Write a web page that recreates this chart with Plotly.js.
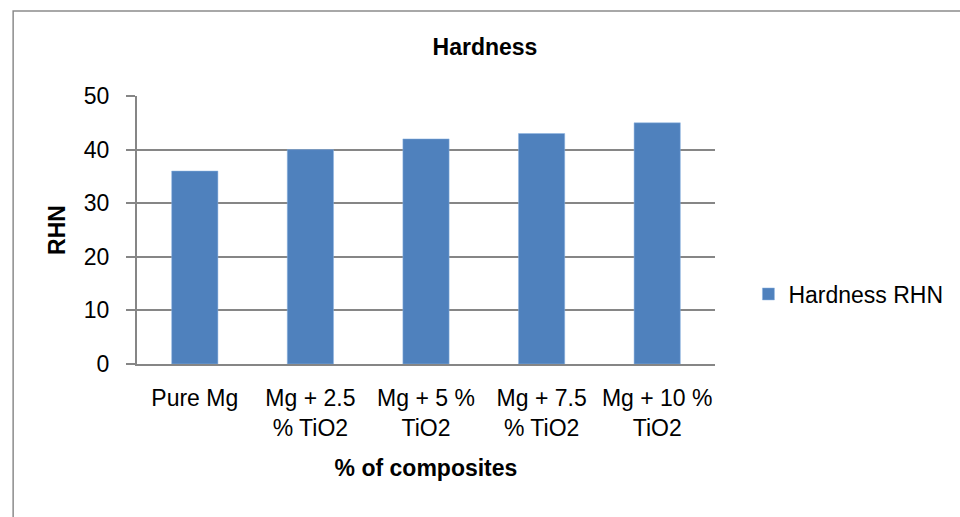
<!DOCTYPE html>
<html>
<head>
<meta charset="utf-8">
<script src="https://cdn.plot.ly/plotly-3.0.1.min.js"></script>
<style>html,body{margin:0;padding:0;background:#fff;}#chart{width:960px;height:517px;}</style>
</head>
<body>
<div id="chart"></div>
<script>
const categories = ["Pure Mg", "Mg + 2.5 % TiO2", "Mg + 5 % TiO2", "Mg + 7.5 % TiO2", "Mg + 10 % TiO2"];
const tickLabels = ["Pure Mg", "Mg + 2.5<br>% TiO2", "Mg + 5 %<br>TiO2", "Mg + 7.5<br>% TiO2", "Mg + 10 %<br>TiO2"];
const hardness = [36, 40, 42, 43, 45];
const yTicks = [0, 10, 20, 30, 40, 50];

const FONT = "'Liberation Sans', Arial, sans-serif";
const L = 137, R = 725, T = 96, B = 364, W = 960, H = 517;
const px = v => (v - L) / (R - L);
const py = v => (B - v) / (B - T);

const trace = {
  type: "bar",
  x: categories,
  y: hardness,
  name: "Hardness RHN",
  marker: { color: "#4f81bd", line: { color: "#8eb4e3", width: 0.5 } },
  width: 0.4
};

const layout = {
  width: W, height: H,
  margin: { l: L, r: W - R, t: T, b: H - B, pad: 0 },
  paper_bgcolor: "#fff", plot_bgcolor: "#fff",
  font: { family: FONT, size: 23, color: "#000" },
  title: { text: "<b>Hardness</b>", font: { family: FONT, size: 23, color: "#000" }, x: px(491), xanchor: "center", xref: "paper", y: 1 - 47 / H, yanchor: "middle" },
  showlegend: true,
  legend: { x: px(759), y: py(294), xanchor: "left", yanchor: "middle", font: { family: FONT, size: 23, color: "#000" }, itemwidth: 30, bgcolor: "rgba(0,0,0,0)" },
  bargap: 0.6,
  xaxis: {
    tickmode: "array", tickvals: categories, ticktext: tickLabels,
    showline: true, linecolor: "#868686", linewidth: 2,
    ticks: "", showgrid: false,
    ticklabelstandoff: 12,
    tickfont: { family: FONT, size: 23, color: "#000" },
    title: { text: "<b>% of composites</b>", font: { family: FONT, size: 23, color: "#000" }, standoff: 20 },
    automargin: false
  },
  yaxis: {
    range: [0, 50], tickmode: "array", tickvals: yTicks,
    showline: true, linecolor: "#868686", linewidth: 2,
    ticks: "outside", ticklen: 9, tickcolor: "#868686", tickwidth: 2,
    showgrid: true, gridcolor: "#868686", gridwidth: 2,
    zeroline: false,
    ticklabelstandoff: 12,
    tickfont: { family: FONT, size: 23, color: "#000" },
    title: { text: "<b>RHN</b>", font: { family: FONT, size: 23, color: "#000" }, standoff: 12 },
    automargin: false
  },
  shapes: [{
    type: "rect", xref: "paper", yref: "paper",
    x0: px(11), x1: px(990), y0: py(540), y1: py(11),
    line: { color: "#8c8c8c", width: 1.5 }, fillcolor: "rgba(0,0,0,0)", layer: "below"
  }]
};

Plotly.newPlot("chart", [trace], layout, { displayModeBar: false, staticPlot: true });
</script>
</body>
</html>
